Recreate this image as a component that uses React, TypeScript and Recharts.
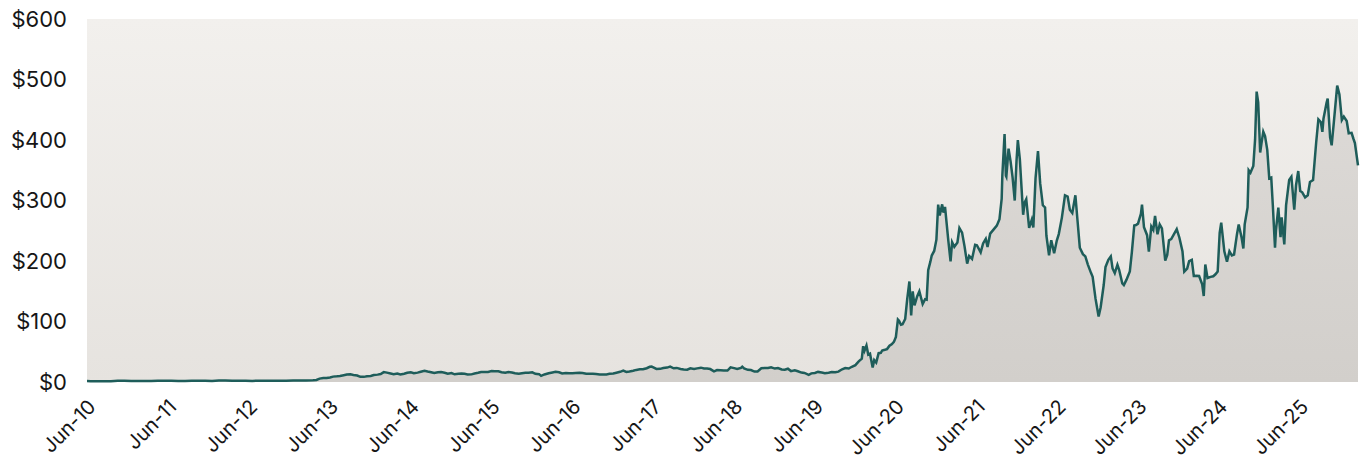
import { AreaChart, Area, XAxis, YAxis, CartesianGrid } from 'recharts'

// Hex values straight in — SVG attributes, no CSS vars
const LINE_COLOR = '#1e5d5a'
const TEXT_COLOR = '#161616'
const FONT = "Inter, 'Noto Sans', sans-serif"

const START = Date.UTC(2010, 5, 29)
const YEAR_MS = 365.25 * 86400000

const tickLabels = [
  'Jun-10', 'Jun-11', 'Jun-12', 'Jun-13', 'Jun-14', 'Jun-15', 'Jun-16', 'Jun-17',
  'Jun-18', 'Jun-19', 'Jun-20', 'Jun-21', 'Jun-22', 'Jun-23', 'Jun-24', 'Jun-25',
]
const priceTicks = [0, 100, 200, 300, 400, 500, 600]

// 2010–2019, roughly twice a month
const earlyDates = [
  '2010-06-29', '2010-07-15', '2010-08-15', '2010-09-15', '2010-10-15', '2010-11-15', '2010-12-15',
  '2011-01-15', '2011-02-15', '2011-03-15', '2011-04-15', '2011-05-15', '2011-06-15', '2011-07-15',
  '2011-08-15', '2011-09-15', '2011-10-15', '2011-11-15', '2011-12-15',
  '2012-01-15', '2012-02-15', '2012-03-15', '2012-04-15', '2012-05-15', '2012-06-15', '2012-07-15',
  '2012-08-15', '2012-09-15', '2012-10-15', '2012-11-15', '2012-12-15',
  '2013-01-15', '2013-02-15', '2013-03-15', '2013-04-15', '2013-05-01', '2013-05-15', '2013-06-01',
  '2013-06-15', '2013-07-01', '2013-07-15', '2013-08-01', '2013-08-15', '2013-09-01', '2013-09-15',
  '2013-10-01', '2013-10-15', '2013-11-01', '2013-11-15', '2013-12-01', '2013-12-15',
  '2014-01-01', '2014-01-15', '2014-02-01', '2014-02-15', '2014-03-01', '2014-03-15', '2014-04-01',
  '2014-04-15', '2014-05-01', '2014-05-15', '2014-06-01', '2014-06-15', '2014-07-01', '2014-07-15',
  '2014-08-01', '2014-08-15', '2014-09-01', '2014-09-15', '2014-10-01', '2014-10-15', '2014-11-01',
  '2014-11-15', '2014-12-01', '2014-12-15',
  '2015-01-01', '2015-01-15', '2015-02-01', '2015-02-15', '2015-03-01', '2015-03-15', '2015-04-01',
  '2015-04-15', '2015-05-01', '2015-05-15', '2015-06-01', '2015-06-15', '2015-07-01', '2015-07-15',
  '2015-08-01', '2015-08-15', '2015-09-01', '2015-09-15', '2015-10-01', '2015-10-15', '2015-11-01',
  '2015-11-15', '2015-12-01', '2015-12-15',
  '2016-01-01', '2016-01-15', '2016-02-01', '2016-02-10', '2016-02-25', '2016-03-15', '2016-04-01',
  '2016-04-15', '2016-05-01', '2016-05-15', '2016-06-01', '2016-06-15', '2016-07-01', '2016-07-15',
  '2016-08-01', '2016-08-15', '2016-09-01', '2016-09-15', '2016-10-01', '2016-10-15', '2016-11-01',
  '2016-11-15', '2016-12-01', '2016-12-15',
  '2017-01-01', '2017-01-15', '2017-02-01', '2017-02-15', '2017-03-01', '2017-03-15', '2017-04-01',
  '2017-04-15', '2017-05-01', '2017-05-15', '2017-06-01', '2017-06-15', '2017-06-23', '2017-07-01',
  '2017-07-15', '2017-08-01', '2017-08-15', '2017-09-01', '2017-09-15', '2017-10-01', '2017-10-15',
  '2017-11-01', '2017-11-15', '2017-12-01', '2017-12-15',
  '2018-01-01', '2018-01-15', '2018-02-01', '2018-02-15', '2018-03-01', '2018-03-15', '2018-04-01',
  '2018-04-15', '2018-05-01', '2018-05-15', '2018-06-01', '2018-06-15', '2018-07-01', '2018-07-15',
  '2018-08-01', '2018-08-07', '2018-08-15', '2018-09-01', '2018-09-15', '2018-10-01', '2018-10-15',
  '2018-11-01', '2018-11-15', '2018-12-01', '2018-12-15',
  '2019-01-01', '2019-01-15', '2019-02-01', '2019-02-15', '2019-03-01', '2019-03-15', '2019-04-01',
  '2019-04-15', '2019-05-01', '2019-05-15', '2019-06-03', '2019-06-15', '2019-07-01', '2019-07-15',
  '2019-08-01', '2019-08-15', '2019-09-01', '2019-09-15', '2019-10-01', '2019-10-15', '2019-11-01',
  '2019-11-15', '2019-12-01', '2019-12-15', '2019-12-31',
]
const earlyCloses = [
  1.59, 1.35, 1.30, 1.40, 1.40, 2.10, 2.10,
  1.65, 1.60, 1.60, 1.75, 1.90, 1.90, 1.90,
  1.65, 1.85, 1.95, 2.20, 1.95,
  1.80, 2.30, 2.45, 2.20, 2.05, 2.10, 1.85,
  1.90, 1.95, 1.90, 2.15, 2.25,
  2.40, 2.45, 2.55, 2.80, 3.40, 5.60, 6.50,
  6.70, 7.50, 8.90, 9.40, 10.0, 11.2, 12.3,
  12.8, 11.6, 10.7, 8.50, 8.50, 9.40,
  10.0, 11.5, 12.2, 13.2, 16.3, 15.5, 14.1,
  13.0, 13.9, 12.4, 13.6, 15.3, 16.0, 14.6,
  15.5, 17.0, 18.7, 17.3, 16.1, 14.8, 16.1,
  16.5, 15.2, 13.8,
  14.8, 12.7, 13.6, 13.9, 13.6, 12.5, 12.6,
  13.9, 15.2, 16.5, 16.6, 16.7, 18.0, 17.6,
  17.8, 16.2, 15.3, 16.6, 15.8, 14.6, 13.8,
  14.5, 15.2, 15.3,
  16.0, 13.5, 13.0, 10.1, 12.5, 14.5, 15.8,
  16.9, 16.0, 14.0, 14.9, 14.5, 14.4, 14.9,
  15.4, 15.0, 13.6, 13.5, 13.6, 13.2, 12.6,
  12.5, 12.6, 13.5,
  14.2, 15.4, 16.8, 18.7, 16.5, 17.3, 18.6,
  20.0, 21.0, 21.0, 22.8, 25.1, 25.5, 24.0,
  21.5, 21.7, 23.0, 23.8, 25.4, 22.7, 23.3,
  21.5, 20.6, 20.4, 22.6,
  21.4, 22.5, 23.7, 22.3, 22.3, 21.4, 17.7,
  19.8, 19.6, 19.2, 19.0, 24.3, 22.9, 21.5,
  23.2, 25.3, 22.6, 20.1, 19.8, 17.3, 17.3,
  22.7, 23.1, 23.3, 24.3,
  22.2, 23.0, 20.6, 20.3, 21.9, 18.0, 19.4,
  17.8, 15.6, 15.0, 11.9, 14.3, 15.0, 16.7,
  15.6, 14.6, 15.2, 16.4, 16.0, 17.2, 21.0,
  23.1, 22.3, 25.2, 27.9,
]

// 2020 onwards, about every ten days
const recentDates = [
  '2020-01-02', '2020-01-15', '2020-01-29', '2020-02-04', '2020-02-10', '2020-02-19', '2020-02-27',
  '2020-03-06', '2020-03-18', '2020-03-25', '2020-04-03', '2020-04-14', '2020-04-24', '2020-04-30',
  '2020-05-12', '2020-05-22', '2020-06-02', '2020-06-12', '2020-06-22', '2020-07-01', '2020-07-10',
  '2020-07-15', '2020-07-24', '2020-07-31', '2020-08-12', '2020-08-21', '2020-08-31', '2020-09-08',
  '2020-09-15', '2020-09-23', '2020-10-05', '2020-10-15', '2020-10-30', '2020-11-10', '2020-11-17',
  '2020-11-24', '2020-12-04', '2020-12-10', '2020-12-21', '2020-12-31',
  '2021-01-08', '2021-01-15', '2021-01-26', '2021-02-01', '2021-02-08', '2021-02-23', '2021-03-05',
  '2021-03-12', '2021-03-22', '2021-04-05', '2021-04-14', '2021-04-26', '2021-05-07', '2021-05-19',
  '2021-05-28', '2021-06-10', '2021-06-24', '2021-07-02', '2021-07-19', '2021-07-30', '2021-08-11',
  '2021-08-19', '2021-08-31', '2021-09-15', '2021-09-30', '2021-10-12', '2021-10-22', '2021-10-25',
  '2021-11-04', '2021-11-10', '2021-11-12', '2021-11-22', '2021-12-01', '2021-12-10', '2021-12-20',
  '2021-12-28',
  '2022-01-03', '2022-01-12', '2022-01-27', '2022-02-03', '2022-02-10', '2022-02-23', '2022-03-07',
  '2022-03-14', '2022-03-24', '2022-04-04', '2022-04-14', '2022-04-26', '2022-05-06', '2022-05-12',
  '2022-05-24', '2022-06-03', '2022-06-16', '2022-06-28', '2022-07-07', '2022-07-21', '2022-08-04',
  '2022-08-16', '2022-08-26', '2022-09-06', '2022-09-20', '2022-09-30', '2022-10-10', '2022-10-24',
  '2022-11-04', '2022-11-15', '2022-11-29', '2022-12-07', '2022-12-20',
  '2023-01-03', '2023-01-12', '2023-01-26', '2023-02-03', '2023-02-16', '2023-02-27', '2023-03-07',
  '2023-03-17', '2023-03-29', '2023-04-06', '2023-04-20', '2023-04-27', '2023-05-09', '2023-05-24',
  '2023-06-02', '2023-06-13', '2023-06-21', '2023-06-30', '2023-07-13', '2023-07-18', '2023-07-27',
  '2023-08-10', '2023-08-18', '2023-08-29', '2023-09-07', '2023-09-15', '2023-09-26', '2023-10-06',
  '2023-10-16', '2023-10-31', '2023-11-09', '2023-11-17', '2023-11-27', '2023-12-07', '2023-12-22',
  '2024-01-03', '2024-01-17', '2024-01-25', '2024-02-07', '2024-02-16', '2024-02-28', '2024-03-08',
  '2024-03-20', '2024-04-01', '2024-04-15', '2024-04-22', '2024-04-29', '2024-05-09', '2024-05-23',
  '2024-06-04', '2024-06-14', '2024-06-24', '2024-07-03', '2024-07-10', '2024-07-24', '2024-08-05',
  '2024-08-16', '2024-08-27', '2024-09-06', '2024-09-19', '2024-09-27', '2024-10-10', '2024-10-18',
  '2024-10-24', '2024-11-06', '2024-11-11', '2024-11-19', '2024-12-02', '2024-12-10', '2024-12-17',
  '2024-12-24',
  '2025-01-02', '2025-01-08', '2025-01-16', '2025-01-24', '2025-02-03', '2025-02-12', '2025-02-21',
  '2025-02-28', '2025-03-10', '2025-03-14', '2025-03-25', '2025-04-04', '2025-04-09', '2025-04-21',
  '2025-04-29', '2025-05-13', '2025-05-23', '2025-06-05', '2025-06-13', '2025-06-23', '2025-07-02',
  '2025-07-11', '2025-07-24', '2025-08-05', '2025-08-15', '2025-08-29', '2025-09-12', '2025-09-22',
  '2025-10-03', '2025-10-10', '2025-10-15', '2025-10-29', '2025-11-03', '2025-11-14', '2025-11-21',
  '2025-12-01', '2025-12-16', '2025-12-26',
  '2026-01-06', '2026-01-15', '2026-01-28', '2026-02-06', '2026-02-19', '2026-02-27', '2026-03-06',
  '2026-03-20',
]
const recentCloses = [
  28.7, 34.2, 38.6, 59.1, 51.6, 60.2, 45.3,
  46.8, 24.1, 36.1, 32.0, 47.6, 48.3, 52.1,
  53.3, 54.4, 59.9, 62.4, 66.3, 74.6, 103.1,
  101.1, 94.5, 95.4, 104.2, 136.7, 166.1, 110.1,
  149.8, 126.6, 141.4, 150.0, 129.0, 136.9, 136.2,
  185.0, 199.3, 209.0, 216.6, 235.2,
  293.3, 275.4, 293.6, 279.9, 289.3, 233.3, 199.3,
  231.2, 223.6, 230.6, 254.5, 246.9, 224.6, 195.6,
  208.4, 203.4, 226.8, 226.0, 214.4, 229.1, 236.6,
  223.0, 245.2, 251.9, 258.5, 269.0, 303.2, 341.6,
  409.9, 341.1, 339.5, 385.6, 365.0, 339.2, 299.9,
  365.3,
  399.9, 368.5, 276.4, 297.0, 302.1, 254.7, 268.2,
  255.5, 336.9, 381.8, 328.3, 292.1, 288.5, 242.1,
  209.4, 234.4, 213.0, 233.7, 244.5, 271.7, 308.6,
  306.5, 284.8, 279.5, 308.7, 265.3, 222.0, 211.3,
  207.5, 194.5, 180.8, 174.0, 137.8,
  108.1, 123.2, 160.3, 189.9, 202.0, 207.6, 187.7,
  180.1, 193.9, 185.1, 162.9, 160.2, 169.2, 182.9,
  213.9, 258.7, 259.5, 261.8, 277.9, 293.3, 255.7,
  242.7, 215.5, 257.2, 251.5, 274.4, 244.1, 260.5,
  253.9, 200.8, 209.9, 234.3, 236.1, 242.6, 252.5,
  238.5, 215.6, 182.6, 187.6, 199.9, 202.0, 175.3,
  175.7, 175.2, 161.5, 142.1, 194.1, 171.9, 173.7,
  174.8, 178.0, 182.6, 246.4, 263.3, 215.9, 198.9,
  216.1, 209.2, 210.7, 243.9, 260.5, 238.8, 220.7,
  260.5, 288.5, 350.0, 346.0, 357.1, 400.9, 479.9,
  462.3,
  379.3, 394.9, 413.8, 406.6, 383.7, 336.5, 337.8,
  292.9, 222.2, 249.9, 288.1, 239.4, 272.2, 227.5,
  292.0, 334.1, 339.3, 284.7, 325.3, 348.7, 315.7,
  313.5, 305.3, 308.7, 330.6, 333.9, 395.9, 434.2,
  429.8, 413.5, 435.2, 461.5, 468.4, 404.4, 391.1,
  430.1, 489.9, 475.2,
  432.9, 438.6, 431.5, 411.1, 411.8, 402.5, 395.0,
  358.0,
]

const dates = [...earlyDates, ...recentDates]
const closes = [...earlyCloses, ...recentCloses]
const data = dates.map((d, i) => ({ t: Date.parse(d), close: closes[i] }))
const END = data[data.length - 1].t
const tickValues = tickLabels.map((_, i) => START + i * YEAR_MS)

export default function App() {
  return (
    <div style={{ position: 'absolute', left: 0, top: 0, width: 1361, height: 462, background: '#fff' }}>
      <AreaChart width={1361} height={462} data={data} margin={{ top: 19, right: 3, left: 0, bottom: 0 }}>
        <defs>
          <linearGradient id="plotBg" x1="0" y1="0" x2="0" y2="1">
            <stop offset="0%" stopColor="#f2f0ed" />
            <stop offset="100%" stopColor="#e6e3df" />
          </linearGradient>
          <linearGradient id="areaFill" x1="0" y1="0" x2="0" y2="1">
            <stop offset="0%" stopColor="#dddad7" />
            <stop offset="100%" stopColor="#d2cfcb" />
          </linearGradient>
        </defs>
        <CartesianGrid fill="url(#plotBg)" stroke="none" horizontal={false} vertical={false} />
        <XAxis
          type="number"
          dataKey="t"
          domain={[START, END]}
          ticks={tickValues}
          interval={0}
          tickFormatter={(_v, i) => tickLabels[i]}
          angle={-45}
          textAnchor="end"
          height={80}
          axisLine={false}
          tickLine={false}
          tickSize={0}
          tickMargin={16}
          tick={{ fill: TEXT_COLOR, fontSize: 20, fontFamily: FONT }}
        />
        <YAxis
          domain={[0, 600]}
          ticks={priceTicks}
          width={87}
          axisLine={false}
          tickLine={false}
          tickSize={0}
          tickMargin={20}
          tickFormatter={v => `$${v}`}
          tick={{ fill: TEXT_COLOR, fontSize: 22, fontFamily: FONT }}
        />
        <Area
          type="linear"
          dataKey="close"
          stroke={LINE_COLOR}
          strokeWidth={2.5}
          fill="url(#areaFill)"
          fillOpacity={1}
          dot={false}
          activeDot={false}
          isAnimationActive={false}
        />
      </AreaChart>
    </div>
  )
}
